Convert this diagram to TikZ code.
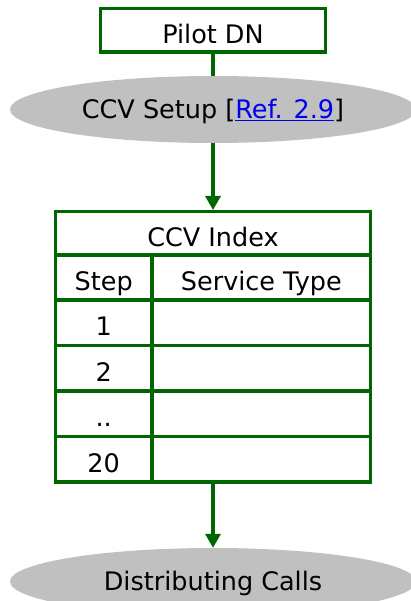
\documentclass[tikz,border=0pt]{standalone}
\usepackage{fontspec}
\setmainfont{DejaVu Sans}
\usetikzlibrary{shapes.geometric,arrows.meta}
\definecolor{ccvgreen}{RGB}{0,102,0}
\definecolor{ovalgray}{RGB}{192,192,192}
\definecolor{linkblue}{RGB}{0,0,238}

\begin{document}
\begin{tikzpicture}[x=1pt, y=-1pt,
    font=\fontsize{25.5}{30}\selectfont,
    box/.style={draw=ccvgreen, line width=3.3pt, fill=white, inner sep=0pt, text height=26pt, text depth=0pt},
    stepcell/.style={box, minimum width=96.7pt, minimum height=45.5pt},
    typecell/.style={box, minimum width=218.6pt, minimum height=45.5pt},
    oval/.style={ellipse, fill=ovalgray, inner sep=0pt, minimum width=406pt, minimum height=67pt, text height=18.5pt, text depth=0pt},
    flow/.style={draw=ccvgreen, line width=3.3pt},
    tip/.style={-{Triangle[width=15pt,length=14pt]}}]
    \useasboundingbox (0,0) rectangle (410,601);

    \node[box, minimum width=225.5pt, minimum height=43.5pt] (pilot) at (213,30.2) {Pilot DN};
    \node[oval] (setup) at (213,109.5) {CCV Setup [\textcolor{linkblue}{\underline{Ref. 2.9}}]};

    % index table
    \node[box, minimum width=315.3pt, minimum height=43.3pt] (idx) at (213,233.3) {CCV Index};
    \node[stepcell, minimum height=45pt] (stephd) at (103.7,277.5) {Step};
    \node[typecell, minimum height=45pt] (typehd) at (261.35,277.5) {Service Type};
    \node[stepcell] (s1) at (103.7,322.75) {1};
    \node[typecell] (t1) at (261.35,322.75) {};
    \node[stepcell] (s2) at (103.7,368.25) {2};
    \node[typecell] (t2) at (261.35,368.25) {};
    \node[stepcell] (s3) at (103.7,413.75) {..};
    \node[typecell] (t3) at (261.35,413.75) {};
    \node[stepcell] (s4) at (103.7,459.25) {20};
    \node[typecell] (t4) at (261.35,459.25) {};

    \node[oval] (dist) at (213,581.5) {Distributing Calls};

    \draw[flow] (pilot) -- (setup);
    \draw[flow, tip] (setup) -- (idx);
    \draw[flow, tip] (idx |- t4.south) -- (dist);
\end{tikzpicture}
\end{document}
